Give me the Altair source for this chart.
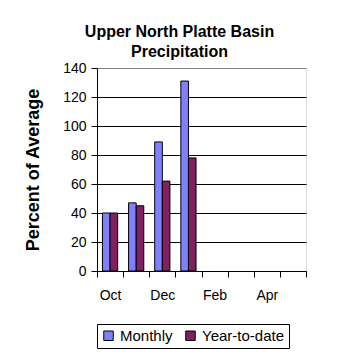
import altair as alt
import pandas as pd

months = ["Oct", "Nov", "Dec", "Jan", "Feb", "Mar", "Apr", "May"]
data_months = ["Oct", "Nov", "Dec", "Jan"]
monthly = [40, 47, 89, 131]
ytd = [40, 45, 62, 78]
series = ["Monthly", "Year-to-date"]
colors = ["#8080FF", "#802060"]
shown_labels = ["Oct", "Dec", "Feb", "Apr"]

rows = []
for m, a, b in zip(data_months, monthly, ytd):
    rows.append({"month": m, "series": series[0], "value": a})
    rows.append({"month": m, "series": series[1], "value": b})
df = pd.DataFrame(rows)

FONT = "Liberation Sans"
label_expr = "indexof(" + str(shown_labels) + ", datum.value) >= 0 ? datum.value : ''"

chart = alt.Chart(df).mark_bar(stroke="black", strokeWidth=1).encode(
    x=alt.X("month:N", sort=months,
            scale=alt.Scale(domain=months, paddingInner=0, paddingOuter=0),
            axis=alt.Axis(title=None, labelAngle=0, tickBand="extent", tickSize=6,
                          tickColor="black", domainColor="black", labelExpr=label_expr,
                          labelFontSize=14, labelFont=FONT, labelColor="black",
                          labelPadding=11, grid=False)),
    xOffset=alt.XOffset("series:N", sort=series,
                        scale=alt.Scale(domain=series, paddingInner=0, paddingOuter=0.72)),
    y=alt.Y("value:Q", scale=alt.Scale(domain=[0, 140], nice=False),
            axis=alt.Axis(title="Percent of Average", values=list(range(0, 141, 20)),
                          tickSize=6, tickColor="black", domainColor="black",
                          gridColor={"condition": {"test": "datum.value >= 140", "value": "#808080"}, "value": "black"},
                          gridOpacity=1, labelFontSize=14, labelFont=FONT, labelColor="black",
                          labelPadding=5, titleFont=FONT, titleFontSize=18, titleFontWeight="bold",
                          titleColor="black", titleX=-64, titleY=101.5, titleAngle=-90,
                          titleAlign="center", titleBaseline="middle")),
    color=alt.Color("series:N", sort=series,
                    scale=alt.Scale(domain=series, range=colors),
                    legend=alt.Legend(title=None, orient="none", legendX=0, legendY=256,
                                      direction="horizontal", strokeColor="black", padding=4,
                                      fillColor="white", symbolType="square", symbolSize=90,
                                      symbolStrokeColor="black", symbolStrokeWidth=1,
                                      symbolOpacity=1,
                                      labelFontSize=15, labelFont=FONT, labelColor="black",
                                      columnPadding=10, labelOffset=4)),
).properties(
    width=209, height=203,
    autosize="none",
    padding={"left": 89, "top": 60, "right": 40, "bottom": 79},
    title=alt.TitleParams(text=["Upper North Platte Basin", "Precipitation"], font=FONT,
                          fontSize=16, fontWeight="bold", color="black", anchor="middle",
                          dx=-22, offset=1, lineHeight=20),
).configure_view(stroke="#808080", strokeWidth=1).configure(background="white")

chart.save("out.html", embed_options={"renderer": "svg", "actions": False})
